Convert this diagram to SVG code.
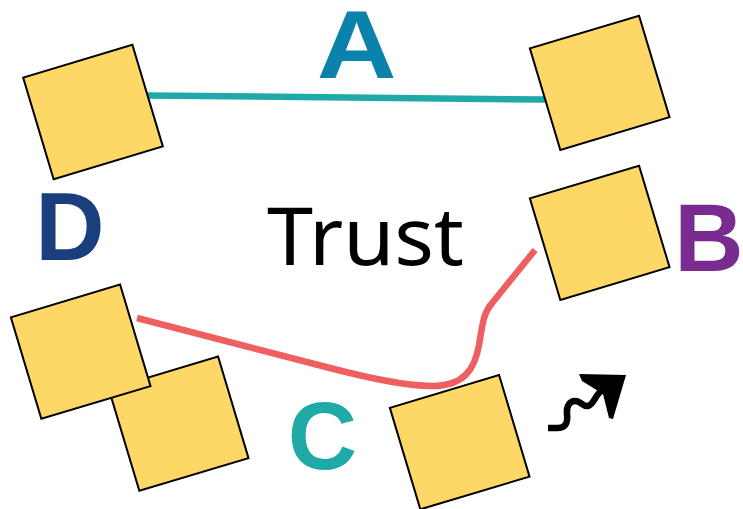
<svg xmlns="http://www.w3.org/2000/svg" width="743" height="509" viewBox="0 0 743 509">
  <style>
    .card { fill: #fdd866; stroke: #000; stroke-width: 2; stroke-linejoin: miter; }
    .link { fill: none; stroke-width: 6.5; stroke-linecap: butt; stroke-linejoin: round; }
    .tag { font-family: "Liberation Sans", Arial, sans-serif; font-weight: 700; font-size: 96px; text-anchor: middle; }
    .title { font-family: "Noto Sans", "Liberation Sans", sans-serif; font-weight: 400; font-size: 80px; fill: #000; }
  </style>
  <defs>
    <rect id="sq" x="-57" y="-53" width="114" height="106"/>
  </defs>

  <rect width="743" height="509" fill="#fff"/>

  <!-- connectors -->
  <g id="connectors">
    <path class="link" stroke="#1fa9a8" d="M147,95.5 L545,99.5"/>
    <path class="link" stroke="#ef5f5f" d="M137,318 L330,368 C380,381 410,386 432,386 C465,386 475,368 479,345 C483,320 484,312 493,302 L535,250"/>
  </g>

  <!-- nodes -->
  <g id="node-a-left"><use href="#sq" class="card" transform="translate(93,112) rotate(-16.7)"/></g>
  <g id="node-a-right"><use href="#sq" class="card" transform="translate(599.7,82.8) rotate(-16.7)"/></g>
  <g id="node-b"><use href="#sq" class="card" transform="translate(599.7,232.8) rotate(-16.7)"/></g>
  <g id="node-d-back"><use href="#sq" class="card" transform="translate(178.7,423.7) rotate(-16.7)"/></g>
  <g id="node-d"><use href="#sq" class="card" transform="translate(80.7,351.7) rotate(-16.7)"/></g>
  <g id="node-c"><use href="#sq" class="card" transform="translate(459.7,442.2) rotate(-16.7)"/></g>

  <!-- letter labels -->
  <g id="labels">
    <text class="tag" x="0" y="0" fill="#0b82ab" transform="translate(356.5,78) scale(1.15,1)">A</text>
    <text class="tag" x="70" y="260" fill="#1a3f7d">D</text>
    <text class="tag" x="709" y="271" fill="#7a2b90">B</text>
    <text class="tag" x="322.5" y="469" fill="#1fa9a7">C</text>
    <text class="title" x="267" y="265" textLength="197" lengthAdjust="spacingAndGlyphs">Trust</text>
  </g>

  <!-- squiggle arrow -->
  <g id="squiggle">
    <path d="M548,428 L558,428 C566,428 568,422 567,414 C566,406 570,401 575,401 C581,401 583,407 588,406 C593,405 595,397 599,393 L608,386" fill="none" stroke="#000" stroke-width="6.5" stroke-linejoin="round"/>
    <polygon points="579,374 626,375 613,419 609,418 603,394 582,381" fill="#000"/>
  </g>
</svg>
